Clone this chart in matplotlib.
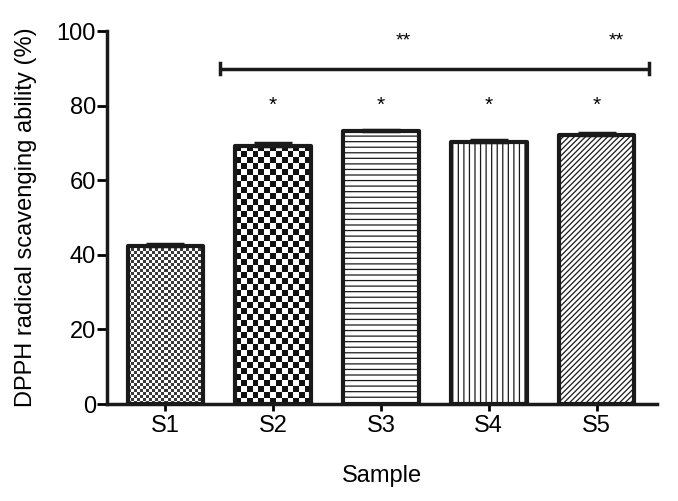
import matplotlib.pyplot as plt
import numpy as np
from matplotlib.colors import ListedColormap

plt.rcParams['font.family'] = ['Liberation Sans', 'DejaVu Sans']
plt.rcParams['hatch.linewidth'] = 0.9
plt.rcParams['hatch.color'] = '#333333'

samples = ['S1', 'S2', 'S3', 'S4', 'S5']
values = [42.5, 69.3, 73.2, 70.4, 72.3]
errors = [0.5, 0.6, 0.4, 0.5, 0.4]
single_star = ['', '*', '*', '*', '*']
bracket_y = 90
double_star_y = 97.5
double_star_x = [3.21, 5.18]

fig = plt.figure(figsize=(6.78, 5.01), dpi=100)
ax = fig.add_axes([0.158, 0.1936, 0.811, 0.744])

x = np.arange(1, len(samples) + 1)
width = 0.7
hatches = [None, None, '---', '|||', '//////']

bars = ax.bar(x, values, width=width, color='white', edgecolor='#1a1a1a',
              linewidth=3, zorder=3)
for b, h in zip(bars, hatches):
    b.set_joinstyle('round')
    if h:
        b.set_hatch(h)
    else:
        b.set_facecolor('none')


def checker(bar, cell_px, dark):
    x0, y0 = bar.get_x(), bar.get_y()
    w, h = bar.get_width(), bar.get_height()
    nx = max(1, int(round(w * 108 / cell_px)))
    ny = max(1, int(round(h * 3.73 / cell_px)))
    i, j = np.indices((ny, nx))
    img = ((i + j) % 2).astype(float)
    im = ax.imshow(img, extent=(x0, x0 + w, y0, y0 + h),
                   cmap=ListedColormap([dark, 'white']),
                   vmin=0, vmax=1, interpolation='nearest', aspect='auto',
                   zorder=2, origin='lower')
    im.set_clip_path(bar)


checker(bars[0], 3, '#3a3a3a')
checker(bars[1], 6, '#111111')

for xi, v, e in zip(x, values, errors):
    ax.errorbar(xi, v, yerr=[[0], [e]], fmt='none', ecolor='#1a1a1a',
                elinewidth=2.5, capsize=14, capthick=2.5, zorder=4)

for xi, v, s in zip(x, values, single_star):
    if s:
        ax.text(xi, 80, s, ha='center', va='center', fontsize=15)

ax.plot([1.51, 5.49], [bracket_y, bracket_y], color='#1a1a1a', lw=2.5,
        solid_capstyle='butt')
for xe in (1.51, 5.49):
    ax.plot([xe, xe], [bracket_y - 1.5, bracket_y + 1.5], color='#1a1a1a',
            lw=2.5)
for xs in double_star_x:
    ax.text(xs, double_star_y, '**', ha='center', va='center', fontsize=14)

ax.set_xlim(0.46, 5.56)
ax.set_ylim(0, 100)
ax.set_xticks(x)
ax.set_xticklabels(samples)
ax.set_yticks(range(0, 101, 20))
for s in ('top', 'right'):
    ax.spines[s].set_visible(False)
for s in ('left', 'bottom'):
    ax.spines[s].set_linewidth(2.5)
    ax.spines[s].set_color('#1a1a1a')
ax.tick_params(axis='y', length=7, width=2, labelsize=17, pad=1)
ax.tick_params(axis='x', length=5, width=2, labelsize=17, pad=3)
ax.set_xlabel('Sample', fontsize=17, labelpad=20)
ax.set_ylabel('DPPH radical scavenging ability (%)', fontsize=17, labelpad=14)

fig.savefig('out.png', dpi=100)
